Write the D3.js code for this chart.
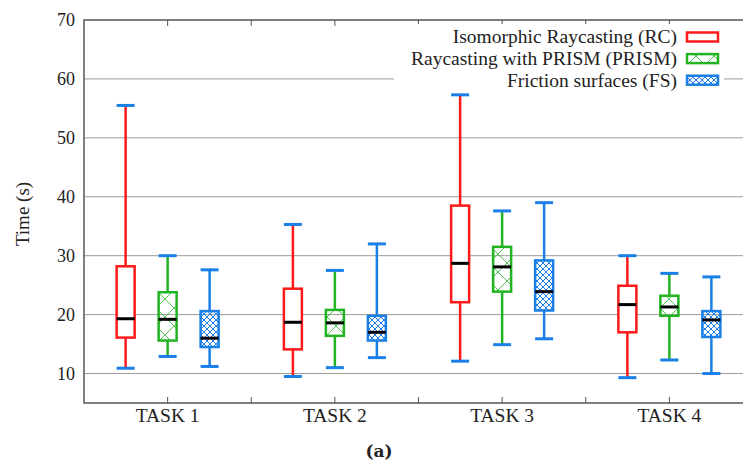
<!DOCTYPE html>
<html>
<head>
<meta charset="utf-8">
<script src="https://cdn.jsdelivr.net/npm/d3@7"></script>
<style>
  body { margin: 0; background: #fff; }
</style>
</head>
<body>
<div id="chart"></div>
<script>
var svgWidth = 743;
var svgHeight = 464;
var serif = "Liberation Serif";

// data
var tasks = ["TASK 1", "TASK 2", "TASK 3", "TASK 4"];
var series = ["Isomorphic Raycasting (RC)", "Raycasting with PRISM (PRISM)", "Friction surfaces (FS)"];
var colors = ["#ff1a1a", "#22b322", "#1a7fe6"];
var yTicks = [10, 20, 30, 40, 50, 60, 70];

// [min, q1, median, q3, max] per task, one array per series
var rcStats = [
    [10.9, 16.1, 19.3, 28.2, 55.5],
    [9.5, 14.1, 18.7, 24.4, 35.3],
    [12.1, 22.1, 28.7, 38.5, 57.3],
    [9.3, 17.0, 21.7, 24.9, 30.0]
];
var prismStats = [
    [12.9, 15.6, 19.2, 23.8, 30.0],
    [11.0, 16.4, 18.6, 20.8, 27.5],
    [14.9, 23.9, 28.1, 31.5, 37.6],
    [12.3, 19.8, 21.3, 23.2, 27.0]
];
var fsStats = [
    [11.2, 14.5, 16.0, 20.6, 27.6],
    [12.7, 15.6, 17.0, 19.8, 32.0],
    [15.9, 20.7, 23.9, 29.2, 39.0],
    [10.0, 16.2, 19.1, 20.6, 26.4]
];
var allStats = [rcStats, prismStats, fsStats];

var margin = { top: 20, right: -10, bottom: 61, left: 84 };
var width = svgWidth - margin.left - margin.right;
var height = svgHeight - margin.top - margin.bottom;

var svg = d3.select("#chart").append("svg")
    .attr("width", svgWidth)
    .attr("height", svgHeight);

var defs = svg.append("defs");

// green: big crossing diagonals
var pg = defs.append("pattern")
    .attr("id", "patGreen")
    .attr("patternUnits", "userSpaceOnUse")
    .attr("width", 18).attr("height", 18);
pg.append("path").attr("d", "M0,0L18,18M18,0L0,18")
    .attr("stroke", colors[1]).attr("stroke-width", 0.8).attr("fill", "none");

// blue: dense crosshatch
var pb = defs.append("pattern")
    .attr("id", "patBlue")
    .attr("patternUnits", "userSpaceOnUse")
    .attr("width", 6).attr("height", 6);
pb.append("path").attr("d", "M0,0L6,6M6,0L0,6M-1,5L1,7M5,-1L7,1M-1,1L1,-1M5,7L7,5")
    .attr("stroke", colors[2]).attr("stroke-width", 1).attr("fill", "none");

var fills = ["#fff", "url(#patGreen)", "url(#patBlue)"];

var chartGroup = svg.append("g")
    .attr("transform", `translate(${margin.left}, ${margin.top})`);

var xScale = d3.scaleBand().domain(tasks).range([0, width]);
var xSub = d3.scalePoint().domain(series).range([-42, 42]);
var yScale = d3.scaleLinear().domain([5, 70]).range([height, 0]);

// grid lines
chartGroup.append("g")
    .selectAll("line")
    .data(yTicks.filter(d => d < 70))
    .enter()
    .append("line")
    .attr("x1", 0)
    .attr("x2", width)
    .attr("y1", d => yScale(d))
    .attr("y2", d => yScale(d))
    .attr("stroke", "#9a9a9a")
    .attr("stroke-width", 1);

// frame
chartGroup.append("rect")
    .attr("x", 0).attr("y", 0)
    .attr("width", width).attr("height", height)
    .attr("fill", "none")
    .attr("stroke", "#555")
    .attr("stroke-width", 1.5);

// y tick labels
var leftAxis = d3.axisLeft(yScale).tickValues(yTicks).tickSize(0).tickPadding(9);
var yAxis = chartGroup.append("g").call(leftAxis)
    .attr("font-family", serif)
    .attr("font-size", 18);
yAxis.select(".domain").remove();
yAxis.selectAll("text").attr("fill", "#222");

// x axis: ticks at centres and at band edges, inward, bottom and top
var tickX = [];
tasks.forEach(function (t) {
    tickX.push(xScale(t) + xScale.bandwidth() / 2);
    if (xScale(t) > 0) tickX.push(xScale(t));
});
[height, 0].forEach(function (yy) {
    chartGroup.append("g")
        .selectAll("line")
        .data(tickX)
        .enter()
        .append("line")
        .attr("x1", d => d).attr("x2", d => d)
        .attr("y1", yy)
        .attr("y2", yy === 0 ? 6 : yy - 6)
        .attr("stroke", "#555")
        .attr("stroke-width", 1);
});

chartGroup.append("g")
    .selectAll("text")
    .data(tasks)
    .enter()
    .append("text")
    .attr("x", d => xScale(d) + xScale.bandwidth() / 2)
    .attr("y", height + 19)
    .attr("text-anchor", "middle")
    .attr("fill", "#222")
    .attr("font-family", serif)
    .attr("font-size", 19.5)
    .text(d => d);

// legend background and entries
var legend = chartGroup.append("g");
legend.append("rect")
    .attr("x", 310).attr("y", 4)
    .attr("width", 330).attr("height", 72)
    .attr("fill", "#fff");

series.forEach(function (s, i) {
    var ly = 18 + i * 21.6;
    legend.append("text")
        .attr("x", 593)
        .attr("y", ly + 5.3)
        .attr("text-anchor", "end")
        .attr("fill", "#222")
        .attr("font-family", serif)
        .attr("font-size", 19.5)
        .text(s);
    legend.append("rect")
        .attr("x", 603).attr("y", ly - 5.5)
        .attr("width", 31).attr("height", 9)
        .attr("fill", fills[i])
        .attr("stroke", colors[i])
        .attr("stroke-width", 2.5);
});

// boxes
var boxW = 18;
series.forEach(function (s, si) {
    var g = chartGroup.append("g");
    var stats = allStats[si];
    tasks.forEach(function (t, ti) {
        var d = stats[ti];
        var cx = xScale(t) + xScale.bandwidth() / 2 + xSub(s);
        // whiskers
        g.append("line")
            .attr("x1", cx).attr("x2", cx)
            .attr("y1", yScale(d[0])).attr("y2", yScale(d[1]))
            .attr("stroke", colors[si]).attr("stroke-width", 2.5);
        g.append("line")
            .attr("x1", cx).attr("x2", cx)
            .attr("y1", yScale(d[3])).attr("y2", yScale(d[4]))
            .attr("stroke", colors[si]).attr("stroke-width", 2.5);
        // caps (drawn blue for every series)
        [d[0], d[4]].forEach(function (v) {
            g.append("line")
                .attr("x1", cx - boxW / 2).attr("x2", cx + boxW / 2)
                .attr("y1", yScale(v)).attr("y2", yScale(v))
                .attr("stroke", colors[2]).attr("stroke-width", 3);
        });
        // box
        g.append("rect")
            .attr("x", cx - boxW / 2)
            .attr("y", yScale(d[3]))
            .attr("width", boxW)
            .attr("height", yScale(d[1]) - yScale(d[3]))
            .attr("fill", fills[si])
            .attr("stroke", colors[si])
            .attr("stroke-width", 2.5);
        // median
        g.append("line")
            .attr("x1", cx - boxW / 2).attr("x2", cx + boxW / 2)
            .attr("y1", yScale(d[2])).attr("y2", yScale(d[2]))
            .attr("stroke", "#000").attr("stroke-width", 3);
    });
});

// y label
svg.append("text")
    .attr("transform", "translate(29, 214) rotate(-90)")
    .attr("text-anchor", "middle")
    .attr("fill", "#222")
    .attr("font-family", serif)
    .attr("font-size", 19)
    .text("Time (s)");

// caption
svg.append("text")
    .attr("x", 379)
    .attr("y", 457)
    .attr("text-anchor", "middle")
    .attr("fill", "#222")
    .attr("font-family", "DejaVu Serif")
    .attr("font-size", 17)
    .attr("font-weight", "bold")
    .text("(a)");
</script>
</body>
</html>
